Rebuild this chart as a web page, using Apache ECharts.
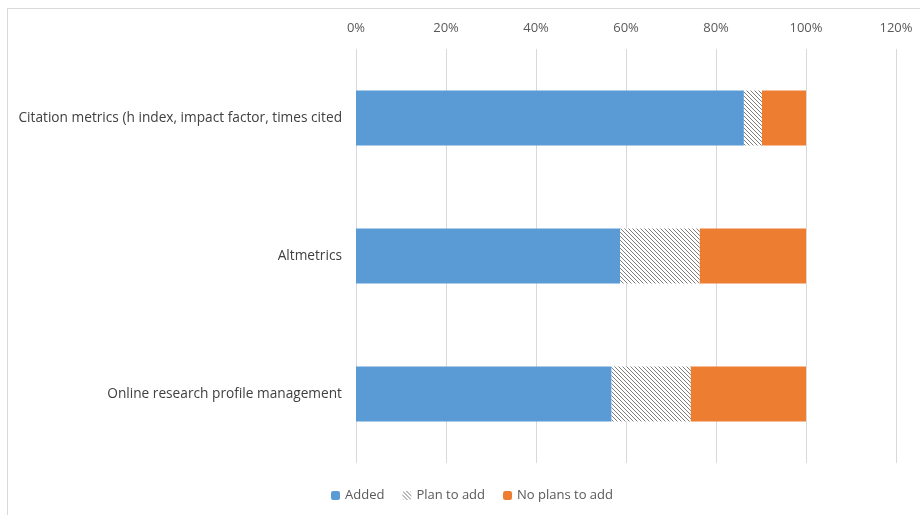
<!DOCTYPE html>
<html><head><meta charset="utf-8">
<script src="https://cdn.jsdelivr.net/npm/echarts@6/dist/echarts.min.js"></script>
<style>html,body{margin:0;padding:0;background:#fff}#c{width:920px;height:515px}
#frame{position:absolute;left:7px;top:8px;width:930px;height:520px;border:1px solid #d9d9d9;pointer-events:none}</style>
</head><body><div id="c"></div><div id="frame"></div>
<script>
const categories = ["Citation metrics (h index, impact factor, times cited", "Altmetrics", "Online research profile management"];
const added = [0.862, 0.587, 0.568];
const planToAdd = [0.040, 0.177, 0.176];
const noPlans = [0.098, 0.236, 0.256];
const ticks = [0, 0.2, 0.4, 0.6, 0.8, 1.0, 1.2];

function hatch() {
  const c = document.createElement('canvas');
  c.width = 4; c.height = 4;
  const g = c.getContext('2d');
  g.fillStyle = '#ffffff'; g.fillRect(0, 0, 4, 4);
  g.strokeStyle = '#6e6e6e'; g.lineWidth = 0.9;
  g.beginPath();
  g.moveTo(-1, -1); g.lineTo(5, 5);
  g.moveTo(-1, 3); g.lineTo(1, 5);
  g.moveTo(3, -1); g.lineTo(5, 1);
  g.stroke();
  return {image: c, repeat: 'repeat'};
}
const font = "'Open Sans', 'Liberation Sans', sans-serif";
const chart = echarts.init(document.getElementById('c'));
chart.setOption({
  animation: false,
  textStyle: {fontFamily: font},
  grid: {left: 356, right: 24, top: 49, bottom: 52},
  legend: {
    bottom: 8, left: 326, itemWidth: 9, itemHeight: 9, itemGap: 18,
    textStyle: {color: '#595959', fontSize: 13, fontFamily: font},
    data: ['Added', 'Plan to add', 'No plans to add']
  },
  xAxis: {
    type: 'value', position: 'top', min: ticks[0], max: ticks[ticks.length - 1], interval: 0.2,
    axisLine: {show: false}, axisTick: {show: false},
    axisLabel: {color: '#595959', fontSize: 13, margin: 14, formatter: v => Math.round(v * 100) + '%'},
    splitLine: {lineStyle: {color: '#d9d9d9', width: 1}}
  },
  yAxis: {
    type: 'category', inverse: true, data: categories,
    axisLine: {show: false}, axisTick: {show: false},
    axisLabel: {color: '#404040', fontSize: 13.7, margin: 14}
  },
  series: [
    {name: 'Added', type: 'bar', stack: 's', data: added, barCategoryGap: '60%', itemStyle: {color: '#5b9bd5'}},
    {name: 'Plan to add', type: 'bar', stack: 's', data: planToAdd, itemStyle: {color: hatch()}},
    {name: 'No plans to add', type: 'bar', stack: 's', data: noPlans, itemStyle: {color: '#ed7d31'}}
  ]
});
</script></body></html>
